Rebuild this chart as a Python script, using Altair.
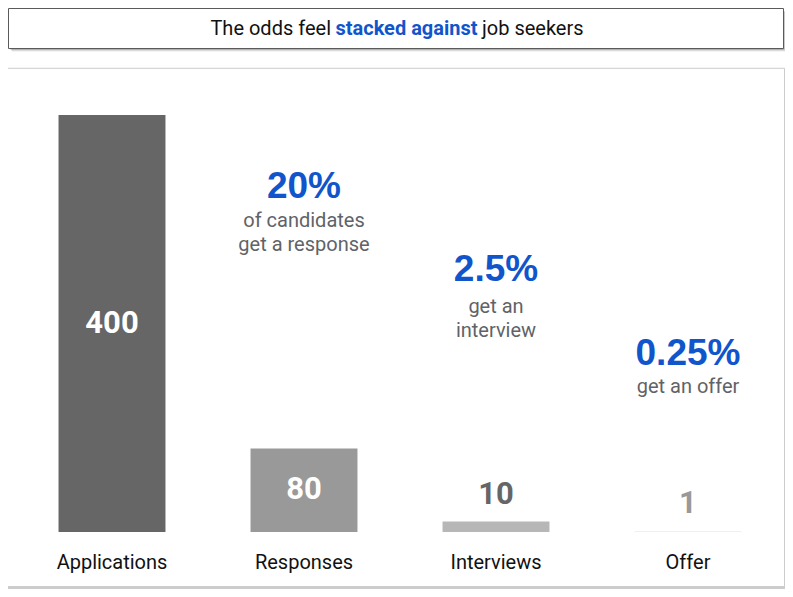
import altair as alt
import pandas as pd

# ---------------- data ----------------
categories = ["Applications", "Responses", "Interviews", "Offer"]
counts = [400, 80, 10, 1]
count_labels = ["400", "80", "10", "1"]

annot_cats = ["Responses", "Interviews", "Offer"]
annot_pcts = ["20%", "2.5%", "0.25%"]
annot_sub = [["of candidates", "get a response"], ["get an", "interview"], ["get an offer"]]

title_parts = ["The odds feel", "stacked against", "job seekers"]

# ---------------- style ----------------
W, H = 777, 581
BAR_COLORS = ["#666666", "#999999", "#b7b7b7", "#efefef"]
BLUE = "#1155cc"
SUB_GRAY = "#5f6368"
NUM_FONT = "Roboto, sans-serif"
TXT_FONT = "Roboto, Noto Sans, sans-serif"
PCT_FONT = "Liberation Sans, Arial, sans-serif"

# layout (pixel positions of decorations / annotations, plot coords)
ANNOT_PCT_Y = [190, 273, 357]
ANNOT_SUB_Y = [219, 305, 385]

df = pd.DataFrame({"category": categories, "count": counts, "label": count_labels})
ann = pd.DataFrame({"category": annot_cats, "pct": annot_pcts, "sub": annot_sub})
deco = pd.DataFrame({"k": [0]})

x_scale = alt.Scale(domain=categories, range=[8, 776], paddingInner=0.443, paddingOuter=0.2215)
y_scale = alt.Scale(domain=[0, 400], range=[524, 107], nice=False, zero=True)
X = alt.X("category:N", scale=x_scale, axis=None, sort=categories)

layers = []

# ---- title box with shadow ----
for i, op in enumerate([0.22, 0.14, 0.08]):
    layers.append(
        alt.Chart(deco).mark_rect(fill="black", opacity=op).encode(
            x=alt.value(2 + i), x2=alt.value(776 + i),
            y=alt.value(2 + i), y2=alt.value(41.5 + i))
    )
layers.append(
    alt.Chart(deco).mark_rect(fill="white", stroke="#5a5a5a", strokeWidth=1).encode(
        x=alt.value(0.5), x2=alt.value(775.5), y=alt.value(0.5), y2=alt.value(40.5))
)

# ---- title text ----
layers.append(
    alt.Chart(deco).mark_text(font=TXT_FONT, fontSize=20, color="#111111", align="right", baseline="alphabetic")
    .encode(x=alt.value(323), y=alt.value(27), text=alt.value(title_parts[0]))
)
layers.append(
    alt.Chart(deco).mark_text(font=TXT_FONT, fontSize=20, fontWeight="bold", color=BLUE, align="center", baseline="alphabetic")
    .encode(x=alt.value(398.5), y=alt.value(27), text=alt.value(title_parts[1]))
)
layers.append(
    alt.Chart(deco).mark_text(font=TXT_FONT, fontSize=20, color="#111111", align="left", baseline="alphabetic")
    .encode(x=alt.value(474), y=alt.value(27), text=alt.value(title_parts[2]))
)

# ---- panel with soft shadow ----
for i, op in enumerate([0.09, 0.06, 0.04, 0.025]):
    d = i + 1
    layers.append(
        alt.Chart(deco).mark_rect(fill="black", opacity=op).encode(
            x=alt.value(-d), x2=alt.value(776 + d), y=alt.value(61 - d * 0.5), y2=alt.value(581))
    )
layers.append(
    alt.Chart(deco).mark_rect(fill="white").encode(
        x=alt.value(0), x2=alt.value(776), y=alt.value(61), y2=alt.value(578))
)

# ---- bars ----
layers.append(
    alt.Chart(df).mark_bar().encode(
        x=X,
        y=alt.Y("count:Q", scale=y_scale, axis=None),
        color=alt.Color("category:N", scale=alt.Scale(domain=categories, range=BAR_COLORS), legend=None),
    )
)

# ---- value labels inside big bars ----
layers.append(
    alt.Chart(df).transform_filter("datum.count >= 50").transform_calculate(mid="datum.count / 2")
    .mark_text(font=NUM_FONT, fontSize=31, fontWeight="bold", color="white", baseline="middle")
    .encode(x=X, y=alt.Y("mid:Q", scale=y_scale, axis=None), text="label:N")
)
# ---- value labels above small bars ----
layers.append(
    alt.Chart(df).transform_filter("datum.count < 50")
    .mark_text(font=NUM_FONT, fontSize=31, fontWeight="bold", baseline="alphabetic", dy=-18)
    .encode(
        x=X,
        y=alt.Y("count:Q", scale=y_scale, axis=None),
        text="label:N",
        color=alt.condition("datum.category == 'Interviews'", alt.value("#666666"), alt.value("#999999")),
    )
)

# ---- category labels ----
layers.append(
    alt.Chart(df).mark_text(font=TXT_FONT, fontSize=20, color="#111111", baseline="alphabetic")
    .encode(x=X, y=alt.value(561), text="category:N")
)

# ---- annotations ----
for i, cat in enumerate(annot_cats):
    base = alt.Chart(ann).transform_filter(alt.datum.category == cat)
    layers.append(
        base.mark_text(font=PCT_FONT, fontSize=37, fontWeight="bold", color=BLUE, baseline="alphabetic")
        .encode(x=X, y=alt.value(ANNOT_PCT_Y[i]), text="pct:N")
    )
    layers.append(
        base.mark_text(font=TXT_FONT, fontSize=20, color=SUB_GRAY, baseline="alphabetic", lineHeight=24)
        .encode(x=X, y=alt.value(ANNOT_SUB_Y[i]), text="sub")
    )

chart = (
    alt.layer(*layers)
    .properties(width=W, height=H, padding=0, autosize=alt.AutoSizeParams(type="none"), background="white")
    .configure_view(stroke=None)
)

chart.save("out.html", embed_options={"renderer": "svg", "actions": False})
